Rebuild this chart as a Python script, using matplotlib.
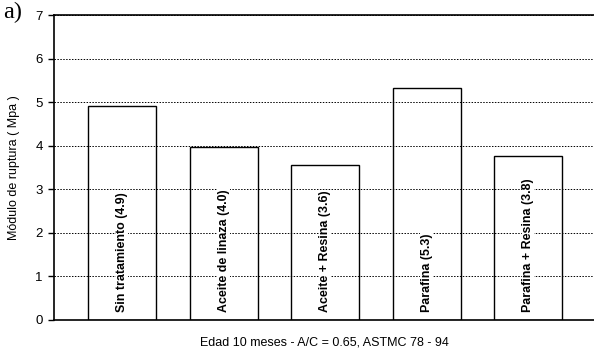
import matplotlib.pyplot as plt
import numpy as np

categorias = ["Sin tratamiento (4.9)", "Aceite de linaza (4.0)", "Aceite + Resina (3.6)",
              "Parafina (5.3)", "Parafina + Resina (3.8)"]
valores = [4.92, 3.97, 3.55, 5.33, 3.76]
yticks = [0, 1, 2, 3, 4, 5, 6, 7]

plt.rcParams['font.family'] = ['Liberation Sans', 'DejaVu Sans']

fig = plt.figure(figsize=(5.94, 3.55), dpi=100)
ax = fig.add_axes([0.0909, 0.0986, 0.9091, 0.8591])

x = np.arange(len(categorias))
ax.bar(x, valores, width=0.67, facecolor='none', edgecolor='black', linewidth=1.0, zorder=2)

for xi, lab in zip(x, categorias):
    ax.text(xi, 0.18, lab, rotation=90, ha='center', va='bottom', fontsize=8.9,
            fontweight='bold', zorder=3,
            bbox=dict(facecolor='white', edgecolor='none', pad=0.3))

ax.set_ylim(0, 7)
ax.set_xlim(-0.67, 4.65)
ax.set_yticks(yticks)
ax.yaxis.grid(True, linestyle=(0, (1.5, 1.5)), color='black', linewidth=0.7)
ax.set_axisbelow(True)
ax.set_xticks([])
ax.tick_params(axis='y', labelsize=9.5, length=4, width=1, direction='out', pad=4)

ax.spines['right'].set_visible(False)
for s in ['left', 'bottom', 'top']:
    ax.spines[s].set_linewidth(1.2)

ax.set_ylabel("Módulo de ruptura ( Mpa )", fontsize=9, labelpad=11)
ax.set_xlabel("Edad 10 meses - A/C = 0.65, ASTMC 78 - 94", fontsize=9, labelpad=12)

fig.text(0.005, 0.995, "a)", fontsize=17.5, family='Liberation Serif', ha='left', va='top')

plt.savefig("out.png", dpi=100)
